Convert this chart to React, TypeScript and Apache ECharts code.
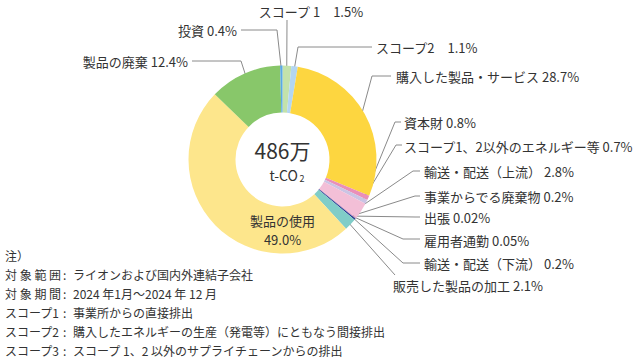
import React, { useEffect, useRef } from 'react';
import * as echarts from 'echarts';

// ---- data ----
const categories = [
  'スコープ 1',
  'スコープ2',
  '購入した製品・サービス',
  '資本財',
  'スコープ1、2以外のエネルギー等',
  '輸送・配送（上流）',
  '事業からでる廃棄物',
  '出張',
  '雇用者通勤',
  '輸送・配送（下流）',
  '販売した製品の加工',
  '製品の使用',
  '製品の廃棄',
  '投資',
];
const shares = [1.5, 1.1, 28.7, 0.8, 0.7, 2.8, 0.2, 0.02, 0.05, 0.2, 2.1, 49.0, 12.4, 0.4];
const totalValue = '486万';
const totalUnit = 't-CO';
const totalUnitSub = '2';
const noteTitle = '注）';
const noteHeads = ['対 象 範 囲', '対 象 期 間', 'スコープ1', 'スコープ2', 'スコープ3'];
const noteBodies = [
  'ライオンおよび国内外連結子会社',
  '2024 年1月～2024 年 12 月',
  '事業所からの直接排出',
  '購入したエネルギーの生産（発電等）にともなう間接排出',
  'スコープ 1、2 以外のサプライチェーンからの排出',
];

// ---- styling ----
const COLORS = [
  '#c3e2ab', '#b3d6f2', '#fdd640', '#ea8fb8', '#cbc4e4', '#f3bfd7', '#eea6c6',
  '#7a7ac0', '#4654a8', '#1d2f8c', '#80cdc8', '#fde68c', '#88c76a', '#5aa9e6',
];
const FONT = '"Noto Sans CJK JP", "Noto Sans", sans-serif';
const TEXT = '#333333';
const CX = 282.5;
const CY = 159.5;
const R_IN = 47;
const R_OUT = 94;
const R_START = 90;

type LP = { x: number; y: number; align: string; elbow?: number[]; end?: number[] };
const LABEL_LAYOUT: LP[] = [
  { x: 311, y: 11, align: 'center', elbow: [287, 20], end: [287, 20] },
  { x: 376, y: 47, align: 'left', elbow: [298, 47], end: [372, 47] },
  { x: 396, y: 76, align: 'left', elbow: [372, 76], end: [391, 76] },
  { x: 404, y: 122, align: 'left', elbow: [395, 122], end: [401, 122] },
  { x: 404, y: 146, align: 'left', elbow: [396, 145], end: [402, 145] },
  { x: 424, y: 171, align: 'left', elbow: [413, 171], end: [420, 171] },
  { x: 424, y: 196, align: 'left', elbow: [415, 196], end: [420, 196] },
  { x: 424, y: 217, align: 'left', elbow: [415, 217], end: [420, 217] },
  { x: 424, y: 240, align: 'left', elbow: [403, 239], end: [420, 239] },
  { x: 424, y: 263, align: 'left', elbow: [403, 263], end: [420, 263] },
  { x: 393, y: 285, align: 'left', elbow: [395, 275], end: [395, 275] },
  { x: 282.5, y: 230, align: 'center' },
  { x: 188, y: 61, align: 'right', elbow: [241, 61], end: [192, 61] },
  { x: 237, y: 30, align: 'right', elbow: [277, 30], end: [241, 30] },
];
const INSIDE_INDEX = 11;

function fmt(v: number): string {
  return v < 0.1 ? v.toFixed(2) : v.toFixed(1);
}

function txt(x: number, y: number, text: string, size: number, align: string) {
  return {
    type: 'text',
    x,
    y,
    style: {
      text,
      font: `${size}px ${FONT}`,
      lineHeight: size,
      fill: TEXT,
      textAlign: align,
      align,
      textVerticalAlign: 'middle',
      verticalAlign: 'middle',
    },
  };
}

export default function App() {
  const ref = useRef<HTMLDivElement>(null);

  useEffect(() => {
    const chart = echarts.init(ref.current!, null, { renderer: 'svg' });

    const total = shares.reduce((a, b) => a + b, 0);
    const midAngles: number[] = [];
    let acc = 0;
    shares.forEach((v) => {
      midAngles.push(((acc + v / 2) / total) * 360);
      acc += v;
    });

    const data = categories.map((name, i) => {
      const item: any = { name, value: shares[i], itemStyle: { color: COLORS[i] } };
      if (i === INSIDE_INDEX) {
        item.label = { position: 'inside', lineHeight: 19 };
        item.labelLine = { show: false };
      }
      return item;
    });

    const graphics: any[] = [
      txt(CX, 150, totalValue, 21, 'center'),
      txt(298, 175, totalUnit, 14, 'right'),
      txt(299.5, 178, totalUnitSub, 9, 'left'),
      txt(5, 255, noteTitle, 12, 'left'),
    ];
    noteHeads.forEach((h, i) => {
      const y = 274 + i * 19;
      graphics.push(txt(5, y, h, 12, 'left'));
      graphics.push(txt(63, y, ':', 12, 'left'));
      graphics.push(txt(73, y, noteBodies[i], 12, 'left'));
    });

    const option: any = {
      animation: false,
      backgroundColor: '#ffffff',
      textStyle: { fontFamily: FONT },
      graphic: { elements: graphics },
      series: [
        {
          type: 'pie',
          center: [CX, CY],
          radius: [R_IN, R_OUT],
          startAngle: 90,
          clockwise: true,
          avoidLabelOverlap: false,
          silent: true,
          emphasis: { disabled: true },
          itemStyle: { borderWidth: 0 },
          label: {
            show: true,
            position: 'outside',
            color: TEXT,
            fontSize: 13,
            fontFamily: FONT,
            formatter: (p: any) => {
              const v = fmt(p.value);
              if (p.dataIndex === INSIDE_INDEX) return `${p.name}\n${v}%`;
              const short = p.name.startsWith('スコープ') && p.name.length <= 6;
              return `${p.name}${short ? '　' : ' '}${v}%`;
            },
          },
          labelLine: {
            show: true,
            length: 10,
            length2: 10,
            smooth: false,
            lineStyle: { color: '#8a8a8a', width: 1 },
          },
          labelLayout: (params: any) => {
            const i = params.dataIndex;
            const lp = LABEL_LAYOUT[i];
            const res: any = { x: lp.x, y: lp.y, align: lp.align, verticalAlign: 'middle' };
            if (lp.elbow && lp.end) {
              const a = (midAngles[i] * Math.PI) / 180;
              const start = [CX + R_START * Math.sin(a), CY - R_START * Math.cos(a)];
              res.labelLinePoints = [start, lp.elbow, lp.end];
            }
            return res;
          },
          data,
        },
      ],
    };

    chart.setOption(option);
    return () => chart.dispose();
  }, []);

  return (
    <div
      ref={ref}
      style={{ position: 'absolute', left: 0, top: 0, width: 640, height: 360, background: '#fff' }}
    />
  );
}
